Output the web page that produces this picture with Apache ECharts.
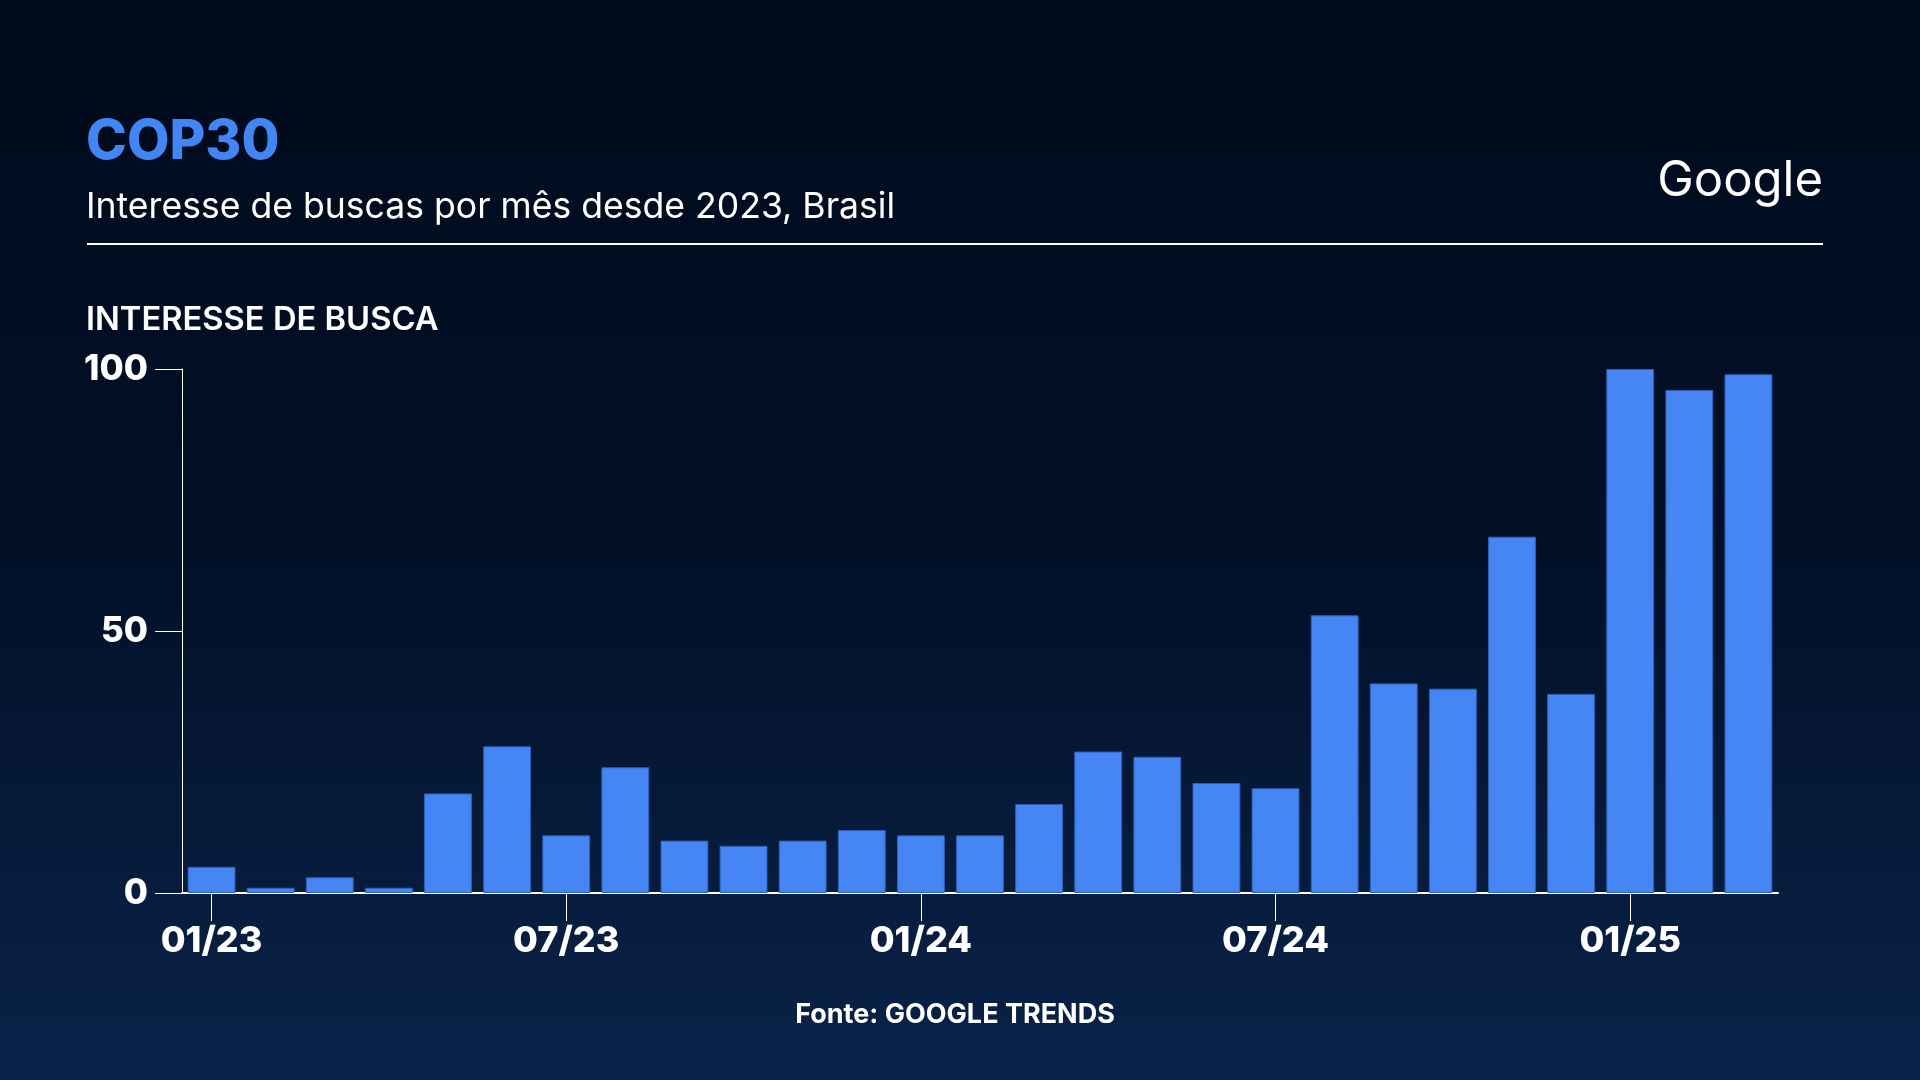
<!DOCTYPE html>
<html>
<head>
    <meta http-equiv="Content-Type" content="text/html; charset=utf-8"/>
    <script src="https://cdn.jsdelivr.net/npm/echarts@6/dist/echarts.min.js"></script>
    <style>
        html, body { margin: 0; padding: 0; }
        #chart { width: 1920px; height: 1080px; }
    </style>
</head>
<body>

<div id="chart"></div>

<script type="text/javascript">
    // meses de 01/23 a 03/25
    var months = ['01/23', '02/23', '03/23', '04/23', '05/23', '06/23', '07/23', '08/23', '09/23',
        '10/23', '11/23', '12/23', '01/24', '02/24', '03/24', '04/24', '05/24', '06/24', '07/24',
        '08/24', '09/24', '10/24', '11/24', '12/24', '01/25', '02/25', '03/25'];
    // interesse de busca (0-100)
    var interest = [5, 1, 3, 1, 19, 28, 11, 24, 10, 9, 10, 12, 11, 11, 17, 27, 26, 21, 20,
        53, 40, 39, 68, 38, 100, 96, 99];
    var yTicks = [0, 50, 100];

    var FONT = 'Inter, "Noto Sans", sans-serif';

    var chart = echarts.init(document.getElementById('chart'));
    var option = {
        backgroundColor: {
            type: 'linear', x: 0, y: 0, x2: 0, y2: 1,
            colorStops: [
                {offset: 0, color: '#000b1b'},
                {offset: 0.5, color: '#021028'},
                {offset: 1, color: '#0a2349'}
            ]
        },
        textStyle: {fontFamily: FONT},
        graphic: [
            {
                type: 'text', x: 86, y: 115,
                style: {text: 'COP30', fill: '#4285f4', font: '800 55px ' + FONT}
            },
            {
                type: 'text', x: 86, y: 189,
                style: {text: 'Interesse de buscas por mês desde 2023, Brasil', fill: '#ffffff', font: '400 35.6px ' + FONT}
            },
            {
                type: 'rect', shape: {x: 87, y: 243, width: 1736, height: 2},
                style: {fill: '#ffffff'}
            },
            {
                type: 'text', x: 1823, y: 157,
                style: {text: 'Google', fill: '#ffffff', font: '400 49px ' + FONT, align: 'right'}
            },
            {
                type: 'text', x: 86, y: 304,
                style: {text: 'INTERESSE DE BUSCA', fill: '#ffffff', font: '600 32.7px ' + FONT}
            },
            {
                type: 'text', x: 955, y: 1001,
                style: {text: 'Fonte: GOOGLE TRENDS', fill: '#ffffff', font: '700 27px ' + FONT, align: 'center'}
            }
        ],
        grid: {
            left: 182,
            top: 369,
            width: 1596,
            height: 524
        },
        xAxis: {
            type: 'category',
            data: months,
            axisLine: {lineStyle: {color: '#ffffff', width: 2}},
            axisTick: {show: true, alignWithLabel: true, interval: 5, length: 28, lineStyle: {color: '#ffffff', width: 1}},
            axisLabel: {interval: 5, color: '#ffffff', fontSize: 36, fontWeight: 800, margin: 30, fontFamily: FONT}
        },
        yAxis: {
            type: 'value',
            min: 0,
            max: 100,
            interval: 50,
            splitLine: {show: false},
            axisLine: {show: true, lineStyle: {color: '#ffffff', width: 1}},
            axisTick: {show: true, length: 27, lineStyle: {color: '#ffffff', width: 1}},
            axisLabel: {
                color: '#ffffff', fontSize: 35, fontWeight: 800, margin: 34, fontFamily: FONT,
                formatter: function (v) { return yTicks.indexOf(v) >= 0 ? String(v) : ''; }
            }
        },
        series: [{
            type: 'bar',
            data: interest,
            barCategoryGap: '19%',
            itemStyle: {color: '#4585f4', borderColor: '#2d5fb6', borderWidth: 1},
            silent: true
        }]
    };
    chart.setOption(option);
</script>

</body>
</html>
